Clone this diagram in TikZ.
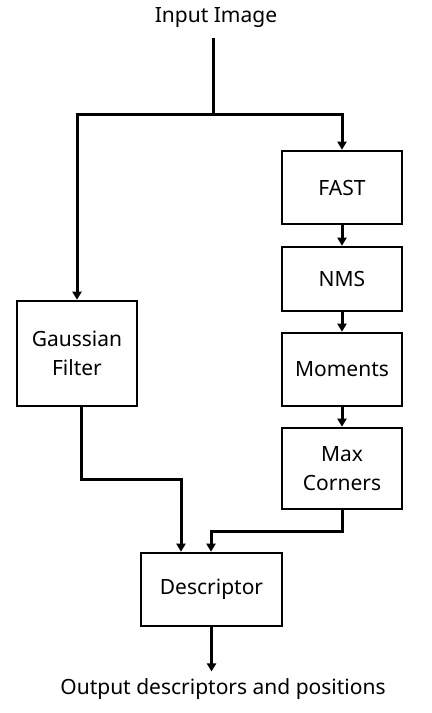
\documentclass[tikz,border=0pt]{standalone}
\usepackage{fontspec}
\setmainfont{Noto Sans}
\usetikzlibrary{positioning,arrows.meta}

\begin{document}
\begin{tikzpicture}[
        x=0.5pt, y=-0.5pt,
        font=\fontsize{10.5}{14.5}\selectfont,
        >={Triangle[length=4pt,width=4.5pt]},
        box/.style={rectangle, draw=black, line width=1.3pt, align=center, inner sep=2pt, minimum width=60pt},
        arrow/.style={->, line width=1.5pt},
        line/.style={line width=1.5pt}
    ]
    \useasboundingbox (0,0) rectangle (432,713);

    \node (in) at (216,18) {Input Image};
    \node[box, minimum height=36.5pt] (fast) at (342,187.5) {FAST};
    \node[box, minimum height=32pt] (nms) at (342,279) {NMS};
    \node[box, minimum height=36.5pt] (mom) at (342,369.5) {Moments};
    \node[box, minimum height=40.5pt] (maxc) at (342,468.5) {Max\\Corners};
    \node[box, minimum height=52.5pt] (gauss) at (77,353.5) {Gaussian\\Filter};
    \node[box, minimum width=70.5pt, minimum height=36.5pt] (desc) at (211.5,589.5) {Descriptor};
    \node (out) at (223,689) {Output descriptors and positions};

    \coordinate (split) at (213,114);
    \coordinate (gj) at (181,479);
    \coordinate (mj) at (211,531);

    \draw[line] (split |- 0,38) -- (split);
    \draw[arrow] (split) -| (gauss.north);
    \draw[arrow] (split) -| (fast.north);

    \draw[arrow] (fast) -- (nms);
    \draw[arrow] (nms) -- (mom);
    \draw[arrow] (mom) -- (maxc);

    \draw[arrow] ([xshift=2pt]gauss.south) |- (gj) -- (gj |- desc.north);
    \draw[arrow] (maxc.south) |- (mj) -- (mj |- desc.north);
    \draw[arrow] (desc.south) -- (desc.south |- out.north);

\end{tikzpicture}
\end{document}
